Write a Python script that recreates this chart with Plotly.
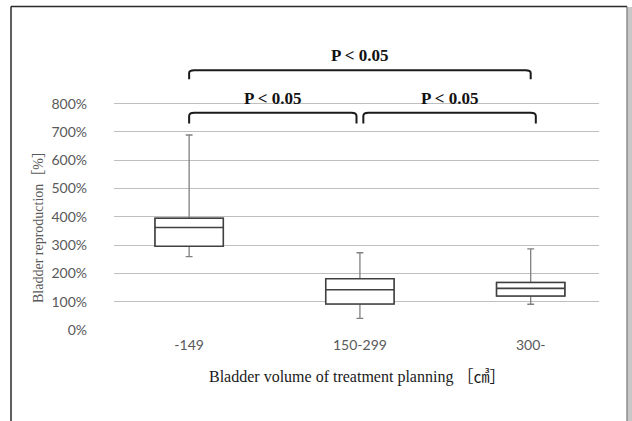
import plotly.graph_objects as go

# ---- data ----
categories = ["-149", "150-299", "300-"]
lower_whisker = [259, 41, 91]
q1 = [296, 92, 120]
median = [362, 142, 147]
q3 = [395, 181, 168]
upper_whisker = [689, 273, 287]
y_ticks = [0, 100, 200, 300, 400, 500, 600, 700, 800]
y_tick_labels = [f"{v}%" for v in y_ticks]
# significance brackets: (from category index, to category index, level %, drop %)
brackets = [(0, 2, 918, 886), (0, 0.98, 768, 730), (1.02, 2.03, 768, 730)]
bracket_labels = ["P < 0.05", "P < 0.05", "P < 0.05"]

W, H = 632, 421
ML, MR, MT, MB = 114, 33, 47, 91
PW, PH = W - ML - MR, H - MT - MB


def px_x(px):
    return (px - ML) / PW


def px_y(py):
    return (H - MB - py) / PH


fig = go.Figure()
xs = list(range(len(categories)))
# gray whiskers
fig.add_trace(go.Box(
    x=xs, q1=q1, median=median, q3=q3,
    lowerfence=lower_whisker, upperfence=upper_whisker,
    width=0.4, whiskerwidth=0.1, boxpoints=False,
    fillcolor="white", line=dict(color="#808080", width=1.3),
    showlegend=False, hoverinfo="skip"))
# dark box on top
fig.add_trace(go.Box(
    x=xs, q1=q1, median=median, q3=q3,
    lowerfence=q1, upperfence=q3,
    width=0.4, whiskerwidth=0, boxpoints=False,
    fillcolor="white", line=dict(color="#404040", width=1.6),
    showlegend=False))

# brackets
for (a, b, lvl, drop), lab in zip(brackets, bracket_labels):
    dx = 0.03
    dy = (lvl - drop) * 0.3
    path = (f"M {a},{drop} L {a},{lvl - dy} Q {a},{lvl} {a + dx},{lvl} "
            f"L {b - dx},{lvl} Q {b},{lvl} {b},{lvl - dy} L {b},{drop}")
    fig.add_shape(type="path", path=path, xref="x", yref="y",
                  line=dict(color="#1a1a1a", width=2))
    fig.add_annotation(x=(a + b) / 2, y=lvl + 10, xref="x", yref="y",
                       text=f"<b>{lab}</b>", showarrow=False, yanchor="bottom",
                       font=dict(family="Liberation Serif", size=17, color="#111111"))

# frame of the picture
fig.add_shape(type="rect", xref="paper", yref="paper",
              x0=px_x(627.5), x1=px_x(633), y0=px_y(7), y1=px_y(422),
              line=dict(width=0), fillcolor="#c8c8c8", layer="below")
fig.add_shape(type="line", xref="paper", yref="paper",
              x0=px_x(11), x1=px_x(627), y0=px_y(6.5), y1=px_y(6.5),
              line=dict(color="#2a2a2a", width=1.5))
fig.add_shape(type="line", xref="paper", yref="paper",
              x0=px_x(11), x1=px_x(11), y0=px_y(6.5), y1=px_y(422),
              line=dict(color="#2a2a2a", width=1.5))
fig.add_shape(type="line", xref="paper", yref="paper",
              x0=px_x(627), x1=px_x(627), y0=px_y(6.5), y1=px_y(422),
              line=dict(color="#555555", width=1))

# axis titles
fig.add_annotation(xref="paper", yref="paper", x=px_x(38), y=px_y(224),
                   text="Bladder reproduction［%］", textangle=-90, showarrow=False,
                   xanchor="center", yanchor="middle",
                   font=dict(family="Liberation Serif, Noto Sans CJK JP", size=14, color="#595959"))
fig.add_annotation(xref="paper", yref="paper", x=px_x(357), y=px_y(377),
                   text="Bladder volume of treatment planning ［㎤］", showarrow=False,
                   xanchor="center", yanchor="middle",
                   font=dict(family="Liberation Serif, Noto Sans CJK JP", size=16, color="#1a1a1a"))

fig.update_layout(
    width=W, height=H, margin=dict(l=ML, r=MR, t=MT, b=MB),
    paper_bgcolor="white", plot_bgcolor="white", boxmode="overlay",
    showlegend=False,
    xaxis=dict(range=[-0.44, 2.40], tickvals=xs, ticktext=categories,
               showgrid=False, zeroline=False, showline=False, ticks="",
               tickfont=dict(family="Lato", size=14, color="#595959"),
               ticklabelstandoff=5),
    yaxis=dict(range=[0, 1000], tickvals=y_ticks, ticktext=y_tick_labels,
               showgrid=True, gridcolor="#bfbfbf", gridwidth=1,
               zeroline=False, showline=False, ticks="",
               tickfont=dict(family="Lato", size=14, color="#595959"),
               ticklabelstandoff=26),
)

fig.write_html("out.html")
